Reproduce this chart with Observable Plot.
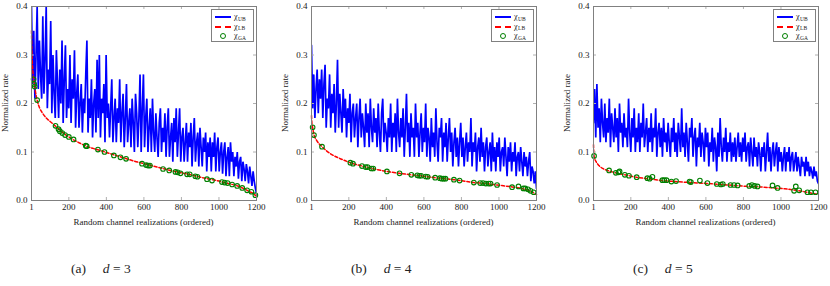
<!DOCTYPE html>
<html><head><meta charset="utf-8">
<script src="https://cdn.jsdelivr.net/npm/d3@7"></script>
<script src="https://cdn.jsdelivr.net/npm/@observablehq/plot@0.6"></script>
<style>
body{margin:0;background:#fff;}
#root{position:relative;width:830px;height:286px;font-family:"Liberation Serif","DejaVu Serif",serif;color:#222;overflow:hidden;}
.panel{position:absolute;top:0;}
.ylab{position:absolute;width:120px;text-align:center;font-size:9px;line-height:10px;transform:rotate(-90deg);white-space:nowrap;}
.xlab{position:absolute;width:225px;text-align:center;font-size:9px;line-height:10px;white-space:nowrap;}
.cap{position:absolute;font-size:13.5px;line-height:14px;white-space:pre;}
.legend{position:absolute;width:43px;height:33px;border:1px solid #808080;background:#fff;box-sizing:border-box;}
.row{position:absolute;left:0;height:9px;width:42px;}
.sw{position:absolute;left:3px;top:4px;width:16px;height:0;}
.sw.ub{border-top:2px solid #0000ff;}
.sw.lb{border-top:2px dashed #ff0000;}
.sw.ga{left:8px;top:1.5px;width:4px;height:4px;border:1.2px solid #008000;border-radius:50%;}
.lt{position:absolute;left:22px;top:0;font-size:8px;line-height:9px;}
.lt .sub{font-size:5.5px;position:relative;top:1.5px;margin-left:0.5px;}
</style></head><body><div id="root"></div><script>
// ---- data ----
const xTicks = [1, 200, 400, 600, 800, 1000, 1200];
const yTicks = [0, 0.1, 0.2, 0.3, 0.4];
const panelTags = ["(a)", "(b)", "(c)"];
const dValues = [3, 4, 5];
const seriesNames = ["UB", "LB", "GA"];
const xLabel = "Random channel realizations (ordered)";
const yLabel = "Normalized rate";

// chi_UB, d = 3 (one value every ~6 ordered realizations)
const ub3 = [
0.40,0.24,0.35,0.21,0.30,0.40,0.23,0.33,0.26,0.21,
0.38,0.22,0.29,0.40,0.19,0.27,0.24,0.37,0.18,0.30,
0.22,0.17,0.31,0.24,0.17,0.27,0.20,0.33,0.16,0.25,
0.32,0.17,0.23,0.19,0.30,0.16,0.25,0.21,0.31,0.15,
0.22,0.26,0.15,0.20,0.24,0.14,0.21,0.18,0.26,0.33,
0.14,0.21,0.17,0.25,0.13,0.20,0.23,0.14,0.29,0.17,
0.30,0.13,0.21,0.18,0.24,0.12,0.30,0.17,0.20,0.13,
0.19,0.25,0.12,0.17,0.21,0.12,0.19,0.16,0.25,0.12,
0.18,0.22,0.11,0.17,0.24,0.12,0.16,0.19,0.11,0.21,
0.16,0.10,0.22,0.18,0.11,0.17,0.26,0.10,0.19,0.26,
0.11,0.17,0.21,0.10,0.15,0.19,0.10,0.21,0.14,0.10,
0.18,0.13,0.09,0.16,0.19,0.10,0.15,0.12,0.18,0.09,
0.15,0.19,0.09,0.13,0.16,0.08,0.17,0.12,0.19,0.09,
0.14,0.19,0.08,0.13,0.15,0.08,0.12,0.16,0.08,0.14,
0.11,0.16,0.07,0.13,0.17,0.08,0.12,0.14,0.07,0.15,
0.11,0.07,0.13,0.10,0.14,0.06,0.12,0.09,0.13,0.06,
0.12,0.09,0.14,0.06,0.11,0.13,0.06,0.10,0.12,0.055,
0.10,0.12,0.05,0.09,0.11,0.05,0.12,0.08,0.10,0.05,
0.09,0.07,0.10,0.045,0.08,0.09,0.04,0.08,0.065,0.04,
0.075,0.06,0.035,0.07,0.05,0.03,0.06,0.04,0.025,0.015];
const lb3X = [1,3,6,10,15,22,31,45,60,80,100,130,150,175,200,250,300,350,400,450,500,550,600,650,700,750,800,850,900,950,1000,1050,1100,1130,1160,1180,1200];
const lb3Y = [0.35,0.31,0.28,0.26,0.245,0.225,0.207,0.19,0.18,0.17,0.163,0.153,0.146,0.138,0.131,0.12,0.111,0.105,0.099,0.093,0.087,0.081,0.076,0.071,0.066,0.061,0.057,0.053,0.048,0.044,0.040,0.035,0.030,0.025,0.019,0.015,0.009];
const ga3X = [12,15,18,31,129,145,152,165,180,200,225,290,295,355,390,440,475,505,590,612,622,632,702,735,768,780,795,830,844,874,885,936,963,1016,1030,1046,1070,1097,1124,1150,1173,1194];
const ga3Y = [0.25,0.24,0.235,0.207,0.154,0.147,0.143,0.139,0.135,0.131,0.126,0.113,0.112,0.105,0.100,0.093,0.089,0.086,0.076,0.073,0.072,0.072,0.065,0.062,0.059,0.058,0.056,0.054,0.054,0.050,0.049,0.044,0.041,0.038,0.037,0.036,0.033,0.030,0.026,0.021,0.018,0.011];

// chi_UB, d = 4
const ub4 = [
0.32,0.19,0.26,0.17,0.23,0.27,0.18,0.25,0.21,0.27,
0.17,0.24,0.28,0.15,0.21,0.19,0.26,0.15,0.22,0.18,
0.24,0.14,0.20,0.29,0.15,0.22,0.18,0.14,0.23,0.17,
0.21,0.13,0.19,0.16,0.22,0.12,0.18,0.20,0.13,0.17,
0.20,0.11,0.17,0.21,0.13,0.18,0.15,0.11,0.20,0.14,
0.18,0.11,0.21,0.15,0.12,0.19,0.14,0.17,0.11,0.20,
0.14,0.10,0.18,0.21,0.12,0.16,0.14,0.10,0.17,0.13,
0.20,0.10,0.16,0.13,0.18,0.10,0.21,0.14,0.11,0.17,
0.13,0.19,0.09,0.15,0.22,0.12,0.16,0.09,0.18,0.13,
0.15,0.09,0.20,0.13,0.16,0.09,0.14,0.18,0.10,0.15,
0.12,0.20,0.09,0.15,0.13,0.08,0.17,0.11,0.14,0.09,
0.19,0.12,0.08,0.15,0.13,0.17,0.08,0.14,0.11,0.16,
0.08,0.13,0.17,0.10,0.14,0.07,0.12,0.15,0.09,0.13,
0.07,0.12,0.16,0.09,0.13,0.07,0.11,0.14,0.08,0.12,
0.10,0.17,0.07,0.12,0.10,0.14,0.06,0.11,0.13,0.08,
0.15,0.09,0.12,0.06,0.11,0.13,0.07,0.10,0.12,0.06,
0.14,0.08,0.11,0.06,0.12,0.09,0.13,0.06,0.10,0.11,
0.07,0.13,0.09,0.05,0.11,0.08,0.12,0.06,0.10,0.08,
0.12,0.05,0.09,0.10,0.06,0.11,0.08,0.05,0.10,0.07,
0.09,0.05,0.08,0.10,0.04,0.07,0.06,0.035,0.06,0.025];
const lb4X = [1,3,7,14,30,57,100,150,208,270,323,400,470,533,600,660,710,760,800,866,930,990,1070,1130,1170,1200];
const lb4Y = [0.175,0.16,0.151,0.136,0.123,0.111,0.097,0.087,0.078,0.071,0.066,0.060,0.056,0.053,0.050,0.047,0.045,0.043,0.041,0.037,0.035,0.032,0.028,0.024,0.019,0.012];
const ga4X = [7,14,57,208,222,270,290,300,320,330,403,470,533,565,575,585,610,620,660,685,695,705,715,760,790,866,900,915,930,945,955,990,1070,1104,1130,1140,1155,1168,1185];
const ga4Y = [0.151,0.135,0.111,0.078,0.076,0.071,0.069,0.069,0.066,0.066,0.060,0.056,0.053,0.052,0.051,0.051,0.0495,0.049,0.047,0.046,0.045,0.045,0.045,0.043,0.041,0.037,0.036,0.036,0.035,0.035,0.035,0.032,0.0275,0.029,0.025,0.025,0.023,0.020,0.017];

// chi_UB, d = 5
const ub5 = [
0.16,0.23,0.13,0.24,0.15,0.19,0.12,0.21,0.16,0.13,
0.20,0.12,0.17,0.14,0.21,0.11,0.18,0.15,0.12,0.19,
0.13,0.17,0.10,0.20,0.14,0.16,0.11,0.18,0.13,0.15,
0.11,0.21,0.14,0.10,0.17,0.13,0.19,0.10,0.15,0.12,
0.18,0.10,0.16,0.13,0.20,0.11,0.14,0.17,0.10,0.15,
0.12,0.18,0.10,0.15,0.13,0.19,0.09,0.14,0.16,0.11,
0.15,0.09,0.17,0.12,0.14,0.10,0.16,0.12,0.09,0.15,
0.12,0.17,0.10,0.14,0.09,0.16,0.13,0.10,0.19,0.11,
0.14,0.09,0.16,0.12,0.08,0.15,0.13,0.17,0.09,0.13,
0.15,0.07,0.13,0.11,0.16,0.09,0.14,0.12,0.08,0.15,
0.11,0.14,0.07,0.12,0.10,0.15,0.08,0.13,0.11,0.06,
0.14,0.09,0.17,0.11,0.08,0.13,0.10,0.15,0.08,0.12,
0.10,0.14,0.08,0.12,0.09,0.13,0.08,0.11,0.14,0.09,
0.12,0.08,0.13,0.10,0.14,0.08,0.11,0.12,0.07,0.13,
0.10,0.07,0.13,0.09,0.11,0.07,0.12,0.10,0.06,0.11,
0.09,0.12,0.06,0.10,0.14,0.08,0.11,0.06,0.10,0.12,
0.07,0.10,0.12,0.06,0.11,0.08,0.10,0.06,0.09,0.11,
0.06,0.10,0.08,0.11,0.06,0.09,0.10,0.06,0.08,0.10,
0.06,0.09,0.07,0.05,0.09,0.07,0.08,0.05,0.09,0.06,
0.08,0.05,0.07,0.06,0.045,0.07,0.05,0.06,0.04,0.035];
const lb5X = [1,3,6,15,30,50,84,120,168,230,290,370,440,520,610,680,750,830,890,960,1020,1080,1140,1200];
const lb5Y = [0.115,0.096,0.088,0.08,0.072,0.066,0.061,0.057,0.053,0.048,0.045,0.041,0.039,0.037,0.035,0.033,0.031,0.029,0.028,0.026,0.024,0.021,0.017,0.012];
const ga5X = [4,84,120,134,140,168,190,231,288,300,315,368,378,390,416,441,513,520,568,608,658,680,690,731,750,769,831,845,860,875,955,982,1070,1079,1097,1141,1160,1184];
const ga5Y = [0.092,0.062,0.057,0.058,0.060,0.053,0.051,0.048,0.046,0.045,0.049,0.042,0.042,0.042,0.039,0.040,0.039,0.038,0.041,0.036,0.034,0.033,0.034,0.032,0.032,0.031,0.030,0.032,0.030,0.029,0.031,0.026,0.020,0.029,0.021,0.017,0.017,0.017];

const panels = [
  {ub: ub3, lbX: lb3X, lbY: lb3Y, gaX: ga3X, gaY: ga3Y, left: 0},
  {ub: ub4, lbX: lb4X, lbY: lb4Y, gaX: ga4X, gaY: ga4Y, left: 280},
  {ub: ub5, lbX: lb5X, lbY: lb5Y, gaX: ga5X, gaY: ga5Y, left: 562}
];

// ---- layout ----
const ML = 31, MT = 6, MR = 4, MB = 36, FW = 225, FH = 194;
const W = ML + FW + MR, H = MT + FH + MB;
const root = document.getElementById("root");

panels.forEach((p, k) => {
  const n = p.ub.length;
  const ubData = p.ub.map((v, i) => ({x: 1 + i * 1199 / (n - 1), y: v}));
  const lbData = p.lbX.map((x, i) => ({x, y: p.lbY[i]}));
  const gaData = p.gaX.map((x, i) => ({x, y: p.gaY[i]}));

  const chart = Plot.plot({
    width: W, height: H,
    marginLeft: ML, marginTop: MT, marginRight: MR, marginBottom: MB,
    x: {domain: [1, 1200]},
    y: {domain: [0, 0.4]},
    style: {fontFamily: "'Liberation Serif','DejaVu Serif',serif", fontSize: "9px", color: "#222", background: "transparent", overflow: "visible"},
    marks: [
      Plot.lineY(ubData, {x: "x", y: "y", stroke: "#0000ff", strokeWidth: 1.7, strokeLinejoin: "miter", clip: true}),
      Plot.line(lbData, {x: "x", y: "y", stroke: "#ff0000", strokeWidth: 1.5, strokeDasharray: "3,2", curve: "monotone-x"}),
      Plot.dot(gaData, {x: "x", y: "y", r: 2.3, stroke: "#008000", strokeWidth: 1.1, fill: "none"}),
      Plot.ruleX(xTicks, {x: d => d, insetTop: FH - 3, stroke: "#b0b0b0"}),
      Plot.ruleX(xTicks, {x: d => d, insetBottom: FH - 3, stroke: "#b0b0b0"}),
      Plot.ruleY(yTicks, {y: d => d, insetRight: FW - 3, stroke: "#b0b0b0"}),
      Plot.ruleY(yTicks, {y: d => d, insetLeft: FW - 3, stroke: "#b0b0b0"}),
      Plot.frame({stroke: "#808080"}),
      Plot.axisX(xTicks, {tickSize: 0, tickPadding: 3, label: null, tickFormat: d => String(d)}),
      Plot.axisY(yTicks, {tickSize: 0, tickPadding: 4, label: null, tickFormat: d => d.toFixed(1)})
    ]
  });
  const wrap = document.createElement("div");
  wrap.className = "panel";
  wrap.style.left = p.left + "px";
  wrap.appendChild(chart);
  root.appendChild(wrap);

  const fx = p.left + ML;
  const yl = document.createElement("div");
  yl.className = "ylab";
  yl.textContent = yLabel;
  yl.style.left = (fx - 26 - 60) + "px";
  yl.style.top = (MT + FH / 2 - 5) + "px";
  root.appendChild(yl);

  const xl = document.createElement("div");
  xl.className = "xlab";
  xl.textContent = xLabel;
  xl.style.left = fx + "px";
  xl.style.top = "217px";
  root.appendChild(xl);

  const lg = document.createElement("div");
  lg.className = "legend";
  lg.style.left = (fx + FW - 45) + "px";
  lg.style.top = (MT + 3) + "px";
  const cls = ["ub", "lb", "ga"];
  seriesNames.forEach((s, j) => {
    const row = document.createElement("div");
    row.className = "row";
    row.style.top = (2 + j * 9.5) + "px";
    row.innerHTML = `<span class="sw ${cls[j]}"></span><span class="lt">χ<span class="sub">${s}</span></span>`;
    lg.appendChild(row);
  });
  root.appendChild(lg);

  const cap = document.createElement("div");
  cap.className = "cap";
  cap.innerHTML = `${panelTags[k]}     <i>d</i> = ${dValues[k]}`;
  cap.style.left = (fx + 40) + "px";
  cap.style.top = "262px";
  root.appendChild(cap);
});
</script></body></html>
